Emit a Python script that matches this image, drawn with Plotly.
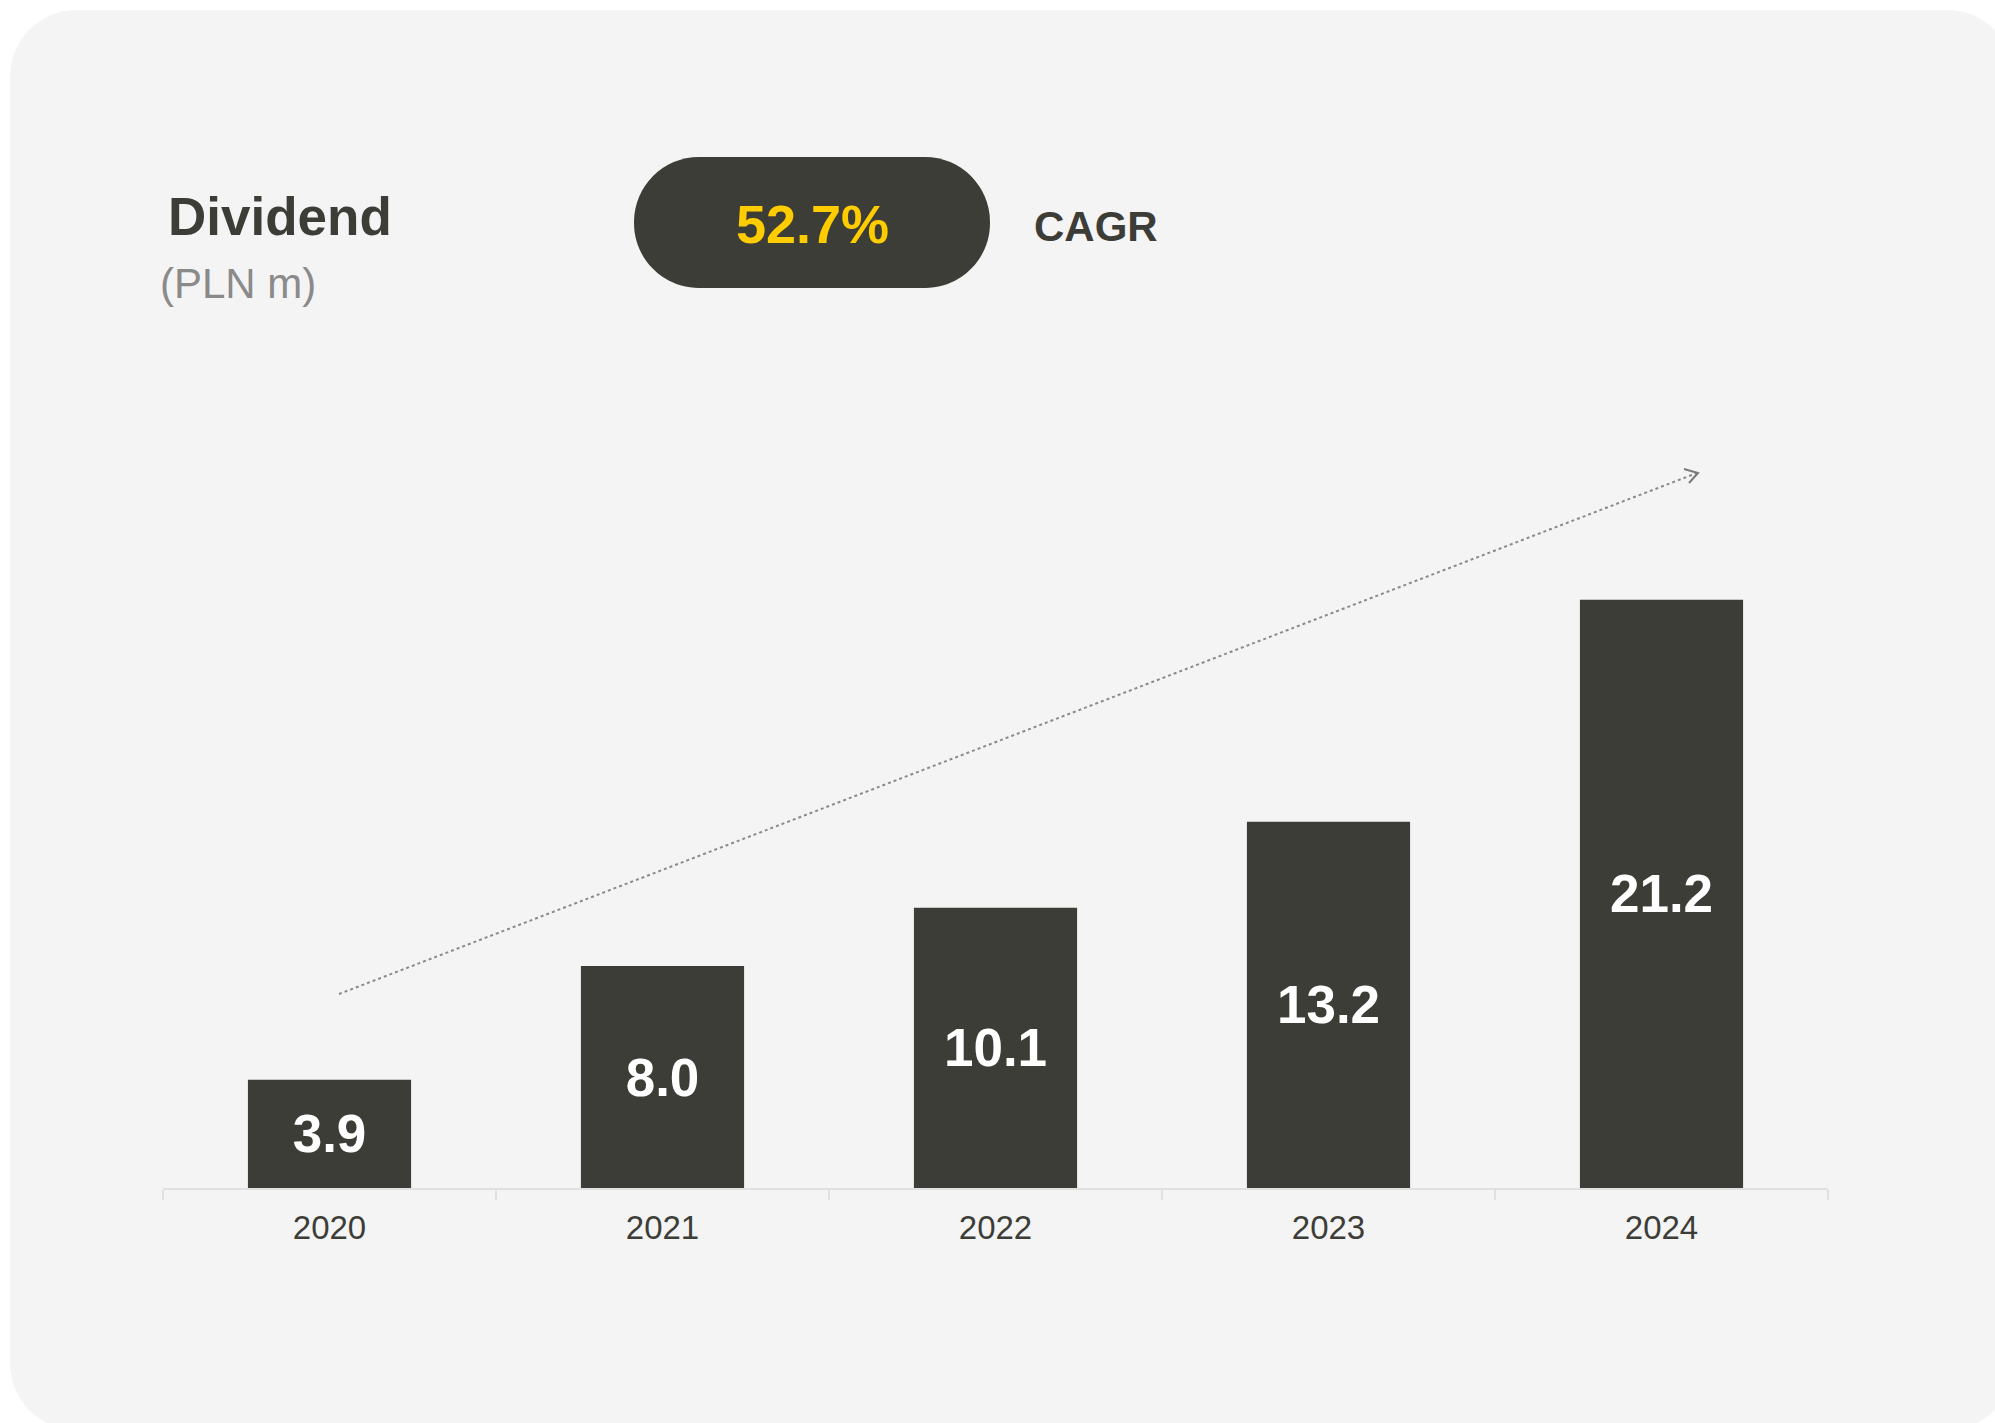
import plotly.graph_objects as go

# Dividend per year (PLN m)
years = ["2020", "2021", "2022", "2023", "2024"]
dividend = [3.9, 8.0, 10.1, 13.2, 21.2]
value_labels = ["3.9", "8.0", "10.1", "13.2", "21.2"]
title_text = "Dividend"
unit_text = "(PLN m)"
cagr_text = "52.7%"
cagr_label = "CAGR"

W, H = 1995, 1423
# plot area in pixels
PL, PR, PT, PB = 163, 1828, 300, 1188

DARK = "#3d3d38"
CARD = "#f4f4f4"
SANS = "Liberation Sans, Arial, sans-serif"


def X(px):
    return (px - PL) / (PR - PL)


def Y(py):
    return (PB - py) / (PB - PT)


def rounded_rect(x0, y0, x1, y1, r):
    k = 0.5523 * r
    pts = [
        f"M {X(x0 + r)},{Y(y0)}",
        f"L {X(x1 - r)},{Y(y0)}",
        f"C {X(x1 - r + k)},{Y(y0)} {X(x1)},{Y(y0 + r - k)} {X(x1)},{Y(y0 + r)}",
        f"L {X(x1)},{Y(y1 - r)}",
        f"C {X(x1)},{Y(y1 - r + k)} {X(x1 - r + k)},{Y(y1)} {X(x1 - r)},{Y(y1)}",
        f"L {X(x0 + r)},{Y(y1)}",
        f"C {X(x0 + r - k)},{Y(y1)} {X(x0)},{Y(y1 - r + k)} {X(x0)},{Y(y1 - r)}",
        f"L {X(x0)},{Y(y0 + r)}",
        f"C {X(x0)},{Y(y0 + r - k)} {X(x0 + r - k)},{Y(y0)} {X(x0 + r)},{Y(y0)}",
        "Z",
    ]
    return " ".join(pts)


fig = go.Figure()
fig.add_trace(
    go.Bar(
        x=years,
        y=dividend,
        text=value_labels,
        textposition="inside",
        insidetextanchor="middle",
        textangle=0,
        textfont=dict(family=SANS, size=53, color="#ffffff", weight="bold"),
        marker=dict(color=DARK, line=dict(width=0)),
        hoverinfo="skip",
        cliponaxis=False,
    )
)

shapes = [
    # card background
    dict(type="path", xref="paper", yref="paper", layer="below",
         path=rounded_rect(10, 10, 2014, 1430, 67),
         fillcolor=CARD, line=dict(width=0)),
    # CAGR pill
    dict(type="path", xref="paper", yref="paper",
         path=rounded_rect(634, 157, 990, 288, 65),
         fillcolor=DARK, line=dict(width=0)),
    # trend arrow (dotted)
    dict(type="line", xref="paper", yref="paper",
         x0=X(339), y0=Y(994), x1=X(1697), y1=Y(473),
         line=dict(color="#8a8a8a", width=2, dash="dot")),
    # arrow head
    dict(type="path", xref="paper", yref="paper",
         path=f"M {X(1684)},{Y(469)} L {X(1698)},{Y(473)} L {X(1689)},{Y(483)}",
         line=dict(color="#7a7a7a", width=2)),
]

annotations = [
    dict(text=f"<b>{title_text}</b>", x=X(166), y=Y(217), xref="paper", yref="paper",
         xanchor="left", yanchor="middle", showarrow=False,
         font=dict(family=SANS, size=53, color=DARK)),
    dict(text=unit_text, x=X(158), y=Y(284), xref="paper", yref="paper",
         xanchor="left", yanchor="middle", showarrow=False,
         font=dict(family=SANS, size=42, color="#8a8a8a")),
    dict(text=f"<b>{cagr_text}</b>", x=X(812), y=Y(224), xref="paper", yref="paper",
         xanchor="center", yanchor="middle", showarrow=False,
         font=dict(family=SANS, size=54, color="#ffcc00")),
    dict(text=f"<b>{cagr_label}</b>", x=X(1032), y=Y(226), xref="paper", yref="paper",
         xanchor="left", yanchor="middle", showarrow=False,
         font=dict(family=SANS, size=42, color=DARK)),
]

fig.update_layout(
    width=W,
    height=H,
    margin=dict(l=PL, r=W - PR, t=PT, b=H - PB, pad=0),
    paper_bgcolor="#ffffff",
    plot_bgcolor="rgba(0,0,0,0)",
    showlegend=False,
    bargap=0.51,
    shapes=shapes,
    annotations=annotations,
    uniformtext=dict(mode=False),
)
fig.update_xaxes(
    type="category",
    range=[-0.5, 4.5],
    showline=True,
    linecolor="#e0e0e0",
    linewidth=2,
    ticks="outside",
    tickson="boundaries",
    ticklen=10,
    tickwidth=2,
    tickcolor="#e0e0e0",
    ticklabelstandoff=9,
    showgrid=False,
    tickfont=dict(family=SANS, size=33, color=DARK),
)
fig.update_yaxes(range=[0, 32], visible=False, showgrid=False, zeroline=False)

fig.write_html("out.html")
